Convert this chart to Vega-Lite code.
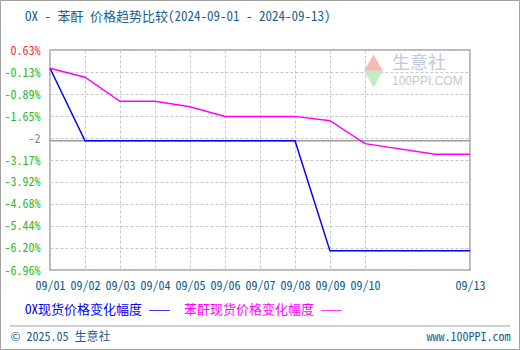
{
  "$schema": "https://vega.github.io/schema/vega-lite/v6.json",
  "width": 420,
  "height": 220,
  "autosize": {"type": "none"},
  "padding": {"left": 50, "top": 50, "right": 50, "bottom": 80},
  "background": "white",
  "title": {
    "text": "OX - 苯酐 价格趋势比较(2024-09-01 - 2024-09-13)",
    "anchor": "start",
    "frame": "group",
    "dx": -25,
    "dy": 57,
    "offset": 20,
    "baseline": "bottom",
    "fontSize": 13,
    "fontWeight": "normal",
    "color": "#1a5e8e",
    "font": "Noto Sans Mono CJK SC, DejaVu Sans Mono, Noto Sans CJK SC"
  },
  "config": {
    "view": {"stroke": "#a0a0a0", "strokeWidth": 1.5},
    "font": "Noto Sans Mono CJK SC, DejaVu Sans Mono, Noto Sans CJK SC",
    "axis": {"labelOverlap": false}
  },
  "data": {
    "values": [
      {"date": "2024-09-01", "series": "OX现货价格变化幅度", "value": 0},
      {"date": "2024-09-02", "series": "OX现货价格变化幅度", "value": -2.5},
      {"date": "2024-09-03", "series": "OX现货价格变化幅度", "value": -2.5},
      {"date": "2024-09-04", "series": "OX现货价格变化幅度", "value": -2.5},
      {"date": "2024-09-05", "series": "OX现货价格变化幅度", "value": -2.5},
      {"date": "2024-09-06", "series": "OX现货价格变化幅度", "value": -2.5},
      {"date": "2024-09-07", "series": "OX现货价格变化幅度", "value": -2.5},
      {"date": "2024-09-08", "series": "OX现货价格变化幅度", "value": -2.5},
      {"date": "2024-09-09", "series": "OX现货价格变化幅度", "value": -6.3},
      {"date": "2024-09-10", "series": "OX现货价格变化幅度", "value": -6.3},
      {"date": "2024-09-12", "series": "OX现货价格变化幅度", "value": -6.3},
      {"date": "2024-09-13", "series": "OX现货价格变化幅度", "value": -6.3},
      {"date": "2024-09-01", "series": "苯酐现货价格变化幅度", "value": 0},
      {"date": "2024-09-02", "series": "苯酐现货价格变化幅度", "value": -0.31},
      {"date": "2024-09-03", "series": "苯酐现货价格变化幅度", "value": -1.14},
      {"date": "2024-09-04", "series": "苯酐现货价格变化幅度", "value": -1.14},
      {"date": "2024-09-05", "series": "苯酐现货价格变化幅度", "value": -1.33},
      {"date": "2024-09-06", "series": "苯酐现货价格变化幅度", "value": -1.66},
      {"date": "2024-09-07", "series": "苯酐现货价格变化幅度", "value": -1.66},
      {"date": "2024-09-08", "series": "苯酐现货价格变化幅度", "value": -1.66},
      {"date": "2024-09-09", "series": "苯酐现货价格变化幅度", "value": -1.81},
      {"date": "2024-09-10", "series": "苯酐现货价格变化幅度", "value": -2.6},
      {"date": "2024-09-12", "series": "苯酐现货价格变化幅度", "value": -2.97},
      {"date": "2024-09-13", "series": "苯酐现货价格变化幅度", "value": -2.97}
    ]
  },
  "layer": [
    {
      "data": {"values": [{}]},
      "mark": {"type": "rect", "fill": "transparent", "stroke": "#a0a0a0", "strokeWidth": 1, "clip": false},
      "encoding": {
        "x": {"datum": {"year": 2024, "month": 8, "date": 30, "hours": 14, "minutes": 4, "utc": true}, "type": "temporal"},
        "x2": {"datum": {"year": 2024, "month": 9, "date": 14, "hours": 9, "minutes": 57, "utc": true}},
        "y": {"datum": 2.338},
        "y2": {"datum": -9.703}
      }
    },
    {
      "data": {"values": [{}]},
      "mark": {"type": "rule", "color": "#a0a0a0", "strokeWidth": 1, "clip": false},
      "encoding": {
        "x": {"datum": {"year": 2024, "month": 8, "date": 30, "hours": 20, "minutes": 34, "utc": true}, "type": "temporal"},
        "x2": {"datum": {"year": 2024, "month": 9, "date": 14, "hours": 3, "minutes": 26, "utc": true}},
        "y": {"datum": -8.892}
      }
    },
    {
      "data": {"values": [{}]},
      "mark": {"type": "point", "shape": "triangle-up", "filled": true, "color": "#f4bcb4", "opacity": 1, "size": 380},
      "encoding": {
        "x": {"datum": {"year": 2024, "month": 9, "date": 10, "hours": 5, "minutes": 50, "utc": true}, "type": "temporal"},
        "y": {"datum": 0.18}
      }
    },
    {
      "data": {"values": [{}]},
      "mark": {"type": "point", "shape": "triangle-down", "filled": true, "color": "#c4ecc4", "opacity": 1, "size": 380},
      "encoding": {
        "x": {"datum": {"year": 2024, "month": 9, "date": 10, "hours": 5, "minutes": 50, "utc": true}, "type": "temporal"},
        "y": {"datum": -0.37}
      }
    },
    {
      "data": {"values": [{}]},
      "mark": {"type": "text", "text": "生意社", "fontSize": 18, "fontWeight": "normal", "color": "#c4c8dc", "align": "left", "baseline": "middle", "font": "Noto Sans CJK SC"},
      "encoding": {
        "x": {"datum": {"year": 2024, "month": 9, "date": 10, "hours": 18, "minutes": 30, "utc": true}, "type": "temporal"},
        "y": {"datum": 0.15}
      }
    },
    {
      "data": {"values": [{}]},
      "mark": {"type": "text", "text": "100PPI.COM", "fontSize": 12, "color": "#c8c8c8", "align": "left", "baseline": "middle", "font": "Liberation Sans"},
      "encoding": {
        "x": {"datum": {"year": 2024, "month": 9, "date": 10, "hours": 18, "minutes": 30, "utc": true}, "type": "temporal"},
        "y": {"datum": -0.43}
      }
    },
    {
      "data": {"values": [{}]},
      "mark": {"type": "rule", "color": "#999999", "strokeWidth": 1.5},
      "encoding": {"y": {"datum": -2.5}}
    },
    {
      "mark": {"type": "line", "strokeWidth": 1.5, "interpolate": "linear"},
      "encoding": {
        "x": {
          "field": "date",
          "type": "temporal",
          "scale": {
            "type": "utc",
            "domain": [
              {"year": 2024, "month": 9, "date": 1, "utc": true},
              {"year": 2024, "month": 9, "date": 13, "utc": true}
            ]
          },
          "axis": {
            "values": [
              {"year": 2024, "month": 9, "date": 1, "utc": true},
              {"year": 2024, "month": 9, "date": 2, "utc": true},
              {"year": 2024, "month": 9, "date": 3, "utc": true},
              {"year": 2024, "month": 9, "date": 4, "utc": true},
              {"year": 2024, "month": 9, "date": 5, "utc": true},
              {"year": 2024, "month": 9, "date": 6, "utc": true},
              {"year": 2024, "month": 9, "date": 7, "utc": true},
              {"year": 2024, "month": 9, "date": 8, "utc": true},
              {"year": 2024, "month": 9, "date": 9, "utc": true},
              {"year": 2024, "month": 9, "date": 10, "utc": true},
              {"year": 2024, "month": 9, "date": 13, "utc": true}
            ],
            "tickCount": 30,
            "labelExpr": "utcFormat(datum.value, '%m/%d')",
            "labelFlush": false,
            "labelOverlap": false,
            "grid": true,
            "gridColor": "#c8c8c8",
            "gridDash": [3, 2],
            "ticks": false,
            "domain": false,
            "labelPadding": 10,
            "labelFontSize": 12,
            "labelColor": "#0a5a8a",
            "title": "© 2025.05 生意社",
            "titleX": -40,
            "titleY": 66,
            "titleAlign": "left",
            "titleBaseline": "middle",
            "titleFontSize": 12,
            "titleFontWeight": "normal",
            "titleColor": "#1a5e8e"
          }
        },
        "y": {
          "field": "value",
          "type": "quantitative",
          "scale": {"domain": [-6.96, 0.63], "nice": false, "zero": false},
          "axis": {
            "values": [0.63, -0.13, -0.89, -1.65, -2.41, -3.17, -3.92, -4.68, -5.44, -6.2, -6.96],
            "tickCount": 30,
            "labelExpr": "datum.value == -2.41 ? '-2' : (datum.value < 0 ? '-' : '') + format(abs(datum.value), '.2f') + '%'",
            "labelOverlap": false,
            "labelFlush": false,
            "grid": true,
            "gridColor": "#c8c8c8",
            "gridDash": [3, 2],
            "ticks": false,
            "domain": false,
            "labelPadding": 10,
            "labelFontSize": 12,
            "labelColor": {
              "condition": [
                {"test": "datum.value == 0.63", "value": "#f03030"},
                {"test": "datum.value == -2.41", "value": "#888888"}
              ],
              "value": "#2db82d"
            },
            "title": "www.100PPI.com",
            "titleX": 460,
            "titleY": 286,
            "titleAngle": 0,
            "titleAlign": "right",
            "titleBaseline": "middle",
            "titleFontSize": 12,
            "titleFontWeight": "normal",
            "titleColor": "#1a5e8e"
          }
        },
        "color": {
          "field": "series",
          "type": "nominal",
          "scale": {
            "domain": ["OX现货价格变化幅度", "苯酐现货价格变化幅度"],
            "range": ["#0000ff", "#ff00ff"]
          },
          "legend": {
            "orient": "none",
            "legendX": -38,
            "legendY": 253,
            "direction": "horizontal",
            "title": null,
            "symbolSize": 0,
            "symbolOpacity": 0,
            "symbolStrokeWidth": 0,
            "labelOffset": 0,
            "columnPadding": 0,
            "padding": 0,
            "labelExpr": "datum.label + ' ——'",
            "labelFontSize": 13,
            "labelLimit": 0,
            "encode": {
              "labels": {
                "update": {
                  "fill": {"signal": "datum.value == 'OX现货价格变化幅度' ? '#0000ff' : '#ff00ff'"}
                }
              }
            }
          }
        }
      }
    }
  ]
}
